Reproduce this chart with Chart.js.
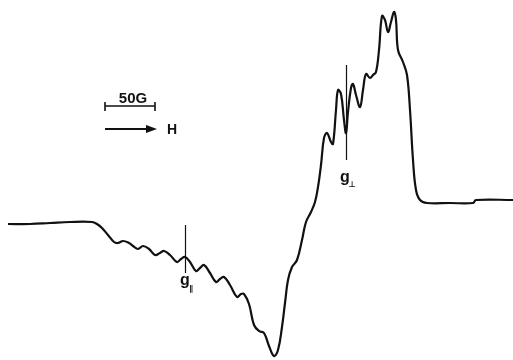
<!DOCTYPE html>
<html>
<head>
<meta charset="utf-8">
<script src="https://cdn.jsdelivr.net/npm/chart.js@4"></script>
<style>
  body { margin: 0; background: #fff; }
  canvas { display: block; }
</style>
</head>
<body>
<canvas id="epr" width="513" height="360"></canvas>
<script>
// EPR 스펙트럼 데이터 (field in G, signal in a.u.)
const field = [0, 22, 42, 62, 84, 89, 94, 100, 106, 110, 115, 121, 125, 130, 135, 141, 147, 152, 156, 162,
  169, 173, 177, 182, 188, 192, 196, 202, 208, 212, 216, 222, 229, 233, 236, 241, 246, 251, 256, 261,
  266, 270, 274, 277, 280, 284, 289, 294, 298, 303, 307, 310, 313, 316, 319, 323, 325, 328, 330, 333,
  336, 338, 340, 343, 345, 348, 352, 355, 358, 362, 365, 368, 371, 374, 377, 380, 383, 386, 388, 390,
  395, 399, 402, 405, 408, 412, 419, 442, 465, 468, 505];
const signal = [0, 0, 1, 2, 2, 0, -4, -11, -18, -19, -17, -19, -22, -25, -22, -25, -31, -29, -27, -31,
  -38, -35, -33, -38, -47, -44, -41, -49, -58, -55, -53, -61, -73, -70, -70, -80, -101, -107, -109, -122,
  -132, -126, -103, -79, -56, -43, -36, -16, 2, 12, 22, 37, 59, 86, 91, 82, 80, 114, 134, 130,
  104, 91, 112, 136, 140, 129, 117, 134, 150, 146, 149, 152, 174, 208, 204, 192, 202, 212, 204, 174,
  162, 149, 114, 64, 34, 24, 21, 21, 21, 24, 24];

// g 마커 위치 [field, top, bottom]
const gPar = [177, -1, -49];
const gPerp = [338, 159, 64];
const scaleBar = [97, 147]; // 50 G

const pts = field.map((f, i) => ({ x: f, y: signal[i] }));

const overlay = {
  id: 'overlay',
  afterDatasetsDraw(chart) {
    const c = chart.ctx, sx = chart.scales.x, sy = chart.scales.y;
    c.save();
    c.strokeStyle = '#111';
    c.fillStyle = '#111';
    c.lineWidth = 1.2;
    // marker lines
    [gPar, gPerp].forEach(m => {
      const x = Math.round(sx.getPixelForValue(m[0])) + 0.5;
      c.beginPath();
      c.moveTo(x, sy.getPixelForValue(m[1]));
      c.lineTo(x, sy.getPixelForValue(m[2]));
      c.stroke();
    });
    // labels
    c.textBaseline = 'top';
    c.textAlign = 'center';
    c.font = 'bold 16px "Liberation Sans", Arial';
    let x1 = sx.getPixelForValue(gPar[0]), y1 = sy.getPixelForValue(gPar[2]) + 2;
    c.fillText('g', x1, y1 - 2);
    c.font = 'bold 8px "DejaVu Sans"';
    c.fillText('\u2225', x1 + 6, y1 + 10);
    c.font = 'bold 16px "Liberation Sans", Arial';
    let x2 = sx.getPixelForValue(gPerp[0]), y2 = sy.getPixelForValue(gPerp[2]) + 10;
    c.fillText('g', x2 - 1, y2);
    c.font = 'bold 8px "DejaVu Sans"';
    c.fillText('\u22a5', x2 + 6, y2 + 11);
    // scale bar
    const bx0 = sx.getPixelForValue(scaleBar[0]), bx1 = sx.getPixelForValue(scaleBar[1]);
    c.lineWidth = 1.6;
    c.beginPath();
    c.moveTo(bx0, 106); c.lineTo(bx1, 106);
    c.moveTo(bx0, 102); c.lineTo(bx0, 111);
    c.moveTo(bx1, 102); c.lineTo(bx1, 111);
    c.stroke();
    c.font = 'bold 15px "Liberation Sans", Arial';
    c.textBaseline = 'alphabetic';
    c.fillText('50G', (bx0 + bx1) / 2 + 3, 103);
    // arrow H
    c.lineWidth = 1.8;
    c.beginPath();
    c.moveTo(bx0, 129); c.lineTo(bx1 - 6, 129);
    c.stroke();
    c.beginPath();
    c.moveTo(bx1 + 2, 129); c.lineTo(bx1 - 9, 125); c.lineTo(bx1 - 9, 133);
    c.closePath(); c.fill();
    c.font = 'bold 14px "Liberation Sans", Arial';
    c.fillText('H', bx1 + 17, 134);
    c.restore();
  }
};

new Chart(document.getElementById('epr'), {
  type: 'line',
  data: {
    datasets: [{
      data: pts,
      borderColor: '#111',
      borderWidth: 2.2,
      pointRadius: 0,
      tension: 0.4,
      clip: false
    }]
  },
  options: {
    responsive: false,
    animation: false,
    layout: { padding: 0 },
    plugins: { legend: { display: false }, tooltip: { enabled: false } },
    scales: {
      x: { type: 'linear', min: -8, max: 505, display: false },
      y: { min: -136, max: 224, display: false }
    }
  },
  plugins: [overlay]
});
</script>
</body>
</html>
